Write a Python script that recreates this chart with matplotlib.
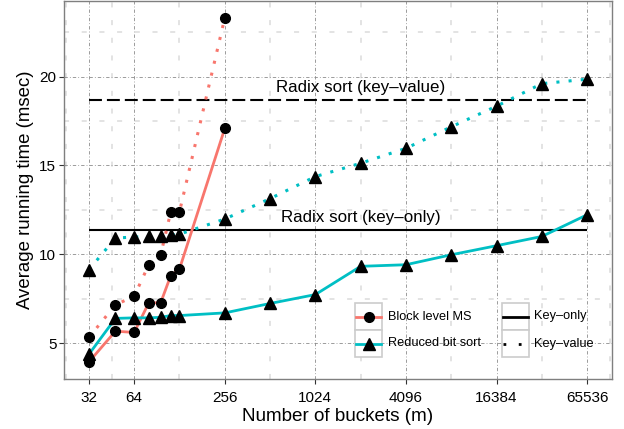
import matplotlib
matplotlib.use("Agg")
import matplotlib.pyplot as plt
from matplotlib.lines import Line2D
from matplotlib.patches import Rectangle
from matplotlib.ticker import NullFormatter

# ==== Data ====
buckets_ms = [32, 48, 64, 80, 96, 112, 128, 256]
ms_key_only = [3.94, 5.67, 5.60, 7.27, 7.27, 8.80, 9.17, 17.08]
ms_key_value = [5.32, 7.15, 7.64, 9.41, 9.97, 12.39, 12.39, 23.30]

buckets_rb = [32, 48, 64, 80, 96, 112, 128, 256, 512, 1024, 2048,
              4096, 8192, 16384, 32768, 65536]
rb_key_only = [4.37, 6.39, 6.42, 6.42, 6.45, 6.55, 6.55, 6.70, 7.23, 7.73,
               9.32, 9.41, 9.97, 10.48, 11.00, 12.22]
rb_key_value = [9.13, 10.91, 10.97, 11.00, 11.04, 11.08, 11.13, 11.98, 13.13,
                14.37, 15.12, 15.96, 17.17, 18.33, 19.60, 19.85]

radix_key_only = 11.34
radix_key_value = 18.67
radix_span = [32, 65536]
label_x = 2048

x_ticks = [32, 64, 256, 1024, 4096, 16384, 65536]
x_minor = [2 ** 4.5, 2 ** 5.5, 2 ** 7, 2 ** 9, 2 ** 11, 2 ** 13, 2 ** 15, 2 ** 16.5]
y_ticks = [5, 10, 15, 20]
y_minor = [7.5, 12.5, 17.5, 22.5]

RED = "#F8766D"
TEAL = "#00BFC4"

plt.rcParams["font.family"] = ["Liberation Sans", "DejaVu Sans"]

W, H = 624, 429
fig = plt.figure(figsize=(W / 100, H / 100), dpi=100)
ax = fig.add_axes([64 / W, 50 / H, 548 / W, 378 / H])

ax.set_xscale("log", base=2)
ax.set_xlim(2 ** 4.45, 2 ** 16.55)
ax.set_ylim(2.98, 24.25)

# grid
ax.set_xticks(x_ticks)
ax.set_xticklabels([str(v) for v in x_ticks], fontsize=11)
ax.set_xticks(x_minor, minor=True)
ax.xaxis.set_minor_formatter(NullFormatter())
ax.set_yticks(y_ticks)
ax.set_yticklabels([str(v) for v in y_ticks], fontsize=11)
ax.set_yticks(y_minor, minor=True)
ax.yaxis.set_minor_formatter(NullFormatter())
ax.tick_params(which="minor", length=0)
ax.tick_params(which="major", length=3.5, width=0.8, color="#333333", pad=2)
ax.tick_params(axis="x", which="major", pad=5)
ax.grid(which="minor", color="#e3e3e3", lw=1.4, linestyle=(0, (2.6, 6.5)), zorder=0)
ax.grid(which="major", color="#8c8c8c", lw=0.6, linestyle=(0, (4, 2.5, 1, 2.5)), zorder=0)
ax.set_axisbelow(True)
for s in ax.spines.values():
    s.set_color("#7f7f7f")
    s.set_linewidth(1.0)

# radix reference lines
ax.hlines(radix_key_only, *radix_span, color="black", lw=1.5, zorder=2)
ax.hlines(radix_key_value, *radix_span, color="black", lw=1.5,
          linestyle=(0, (6.2, 2.4)), zorder=2)
ax.text(label_x, radix_key_value + 0.3, "Radix sort (key\u2013value)",
        ha="center", va="bottom", fontsize=12.2)
ax.text(label_x, radix_key_only + 0.3, "Radix sort (key\u2013only)",
        ha="center", va="bottom", fontsize=12.2)

# series lines
dot = (0, (1, 3))
ax.plot(buckets_ms, ms_key_only, color=RED, lw=2.0, zorder=3)
ax.plot(buckets_ms, ms_key_value, color=RED, lw=2.2, linestyle=dot, zorder=3)
ax.plot(buckets_rb, rb_key_only, color=TEAL, lw=2.0, zorder=3)
ax.plot(buckets_rb, rb_key_value, color=TEAL, lw=2.2, linestyle=dot, zorder=3)

# points
for ys in (ms_key_only, ms_key_value):
    ax.plot(buckets_ms, ys, "o", color="black", ms=7, zorder=4)
for ys in (rb_key_only, rb_key_value):
    ax.plot(buckets_rb, ys, "^", color="black", ms=8.5, zorder=4)

ax.set_xlabel("Number of buckets (m)", fontsize=13.6, labelpad=2)
ax.set_ylabel("Average running time (msec)", fontsize=13.4, labelpad=4)


# ==== manual ggplot-style legends (pixel positions) ====
def fx(px):
    return px / W


def fy(py):
    return 1 - py / H


def key_box(x0, y0, size=27):
    fig.patches.append(Rectangle((fx(x0), fy(y0 + size)), size / W, size / H,
                                 transform=fig.transFigure, facecolor="white",
                                 edgecolor="#cccccc", lw=1.2, zorder=5))


def key_line(x0, yc, color, ls="-", size=27):
    fig.add_artist(Line2D([fx(x0 + 1), fx(x0 + size - 1)], [fy(yc), fy(yc)],
                          transform=fig.transFigure, color=color, lw=2.0,
                          linestyle=ls, zorder=6))


rows = [303, 330]
for (label, color, marker, msz), y0 in zip(
        [("Block level MS", RED, "o", 7), ("Reduced bit sort", TEAL, "^", 8.5)], rows):
    key_box(355, y0)
    key_line(355, y0 + 13.5, color)
    fig.add_artist(Line2D([fx(368.5)], [fy(y0 + 13.5)], transform=fig.transFigure,
                          marker=marker, color="black", ms=msz, lw=0, zorder=7))
    fig.text(fx(388), fy(y0 + 13.5), label, fontsize=9.2, va="center", ha="left")

for (label, ls), y0 in zip([("Key\u2013only", "-"), ("Key\u2013value", (0, (1, 4.5)))], rows):
    key_box(502, y0)
    key_line(502, y0 + 13.5, "black", ls)
    fig.text(fx(534), fy(y0 + 13.5), label, fontsize=9.2, va="center", ha="left")

fig.savefig("out.png", dpi=100)
